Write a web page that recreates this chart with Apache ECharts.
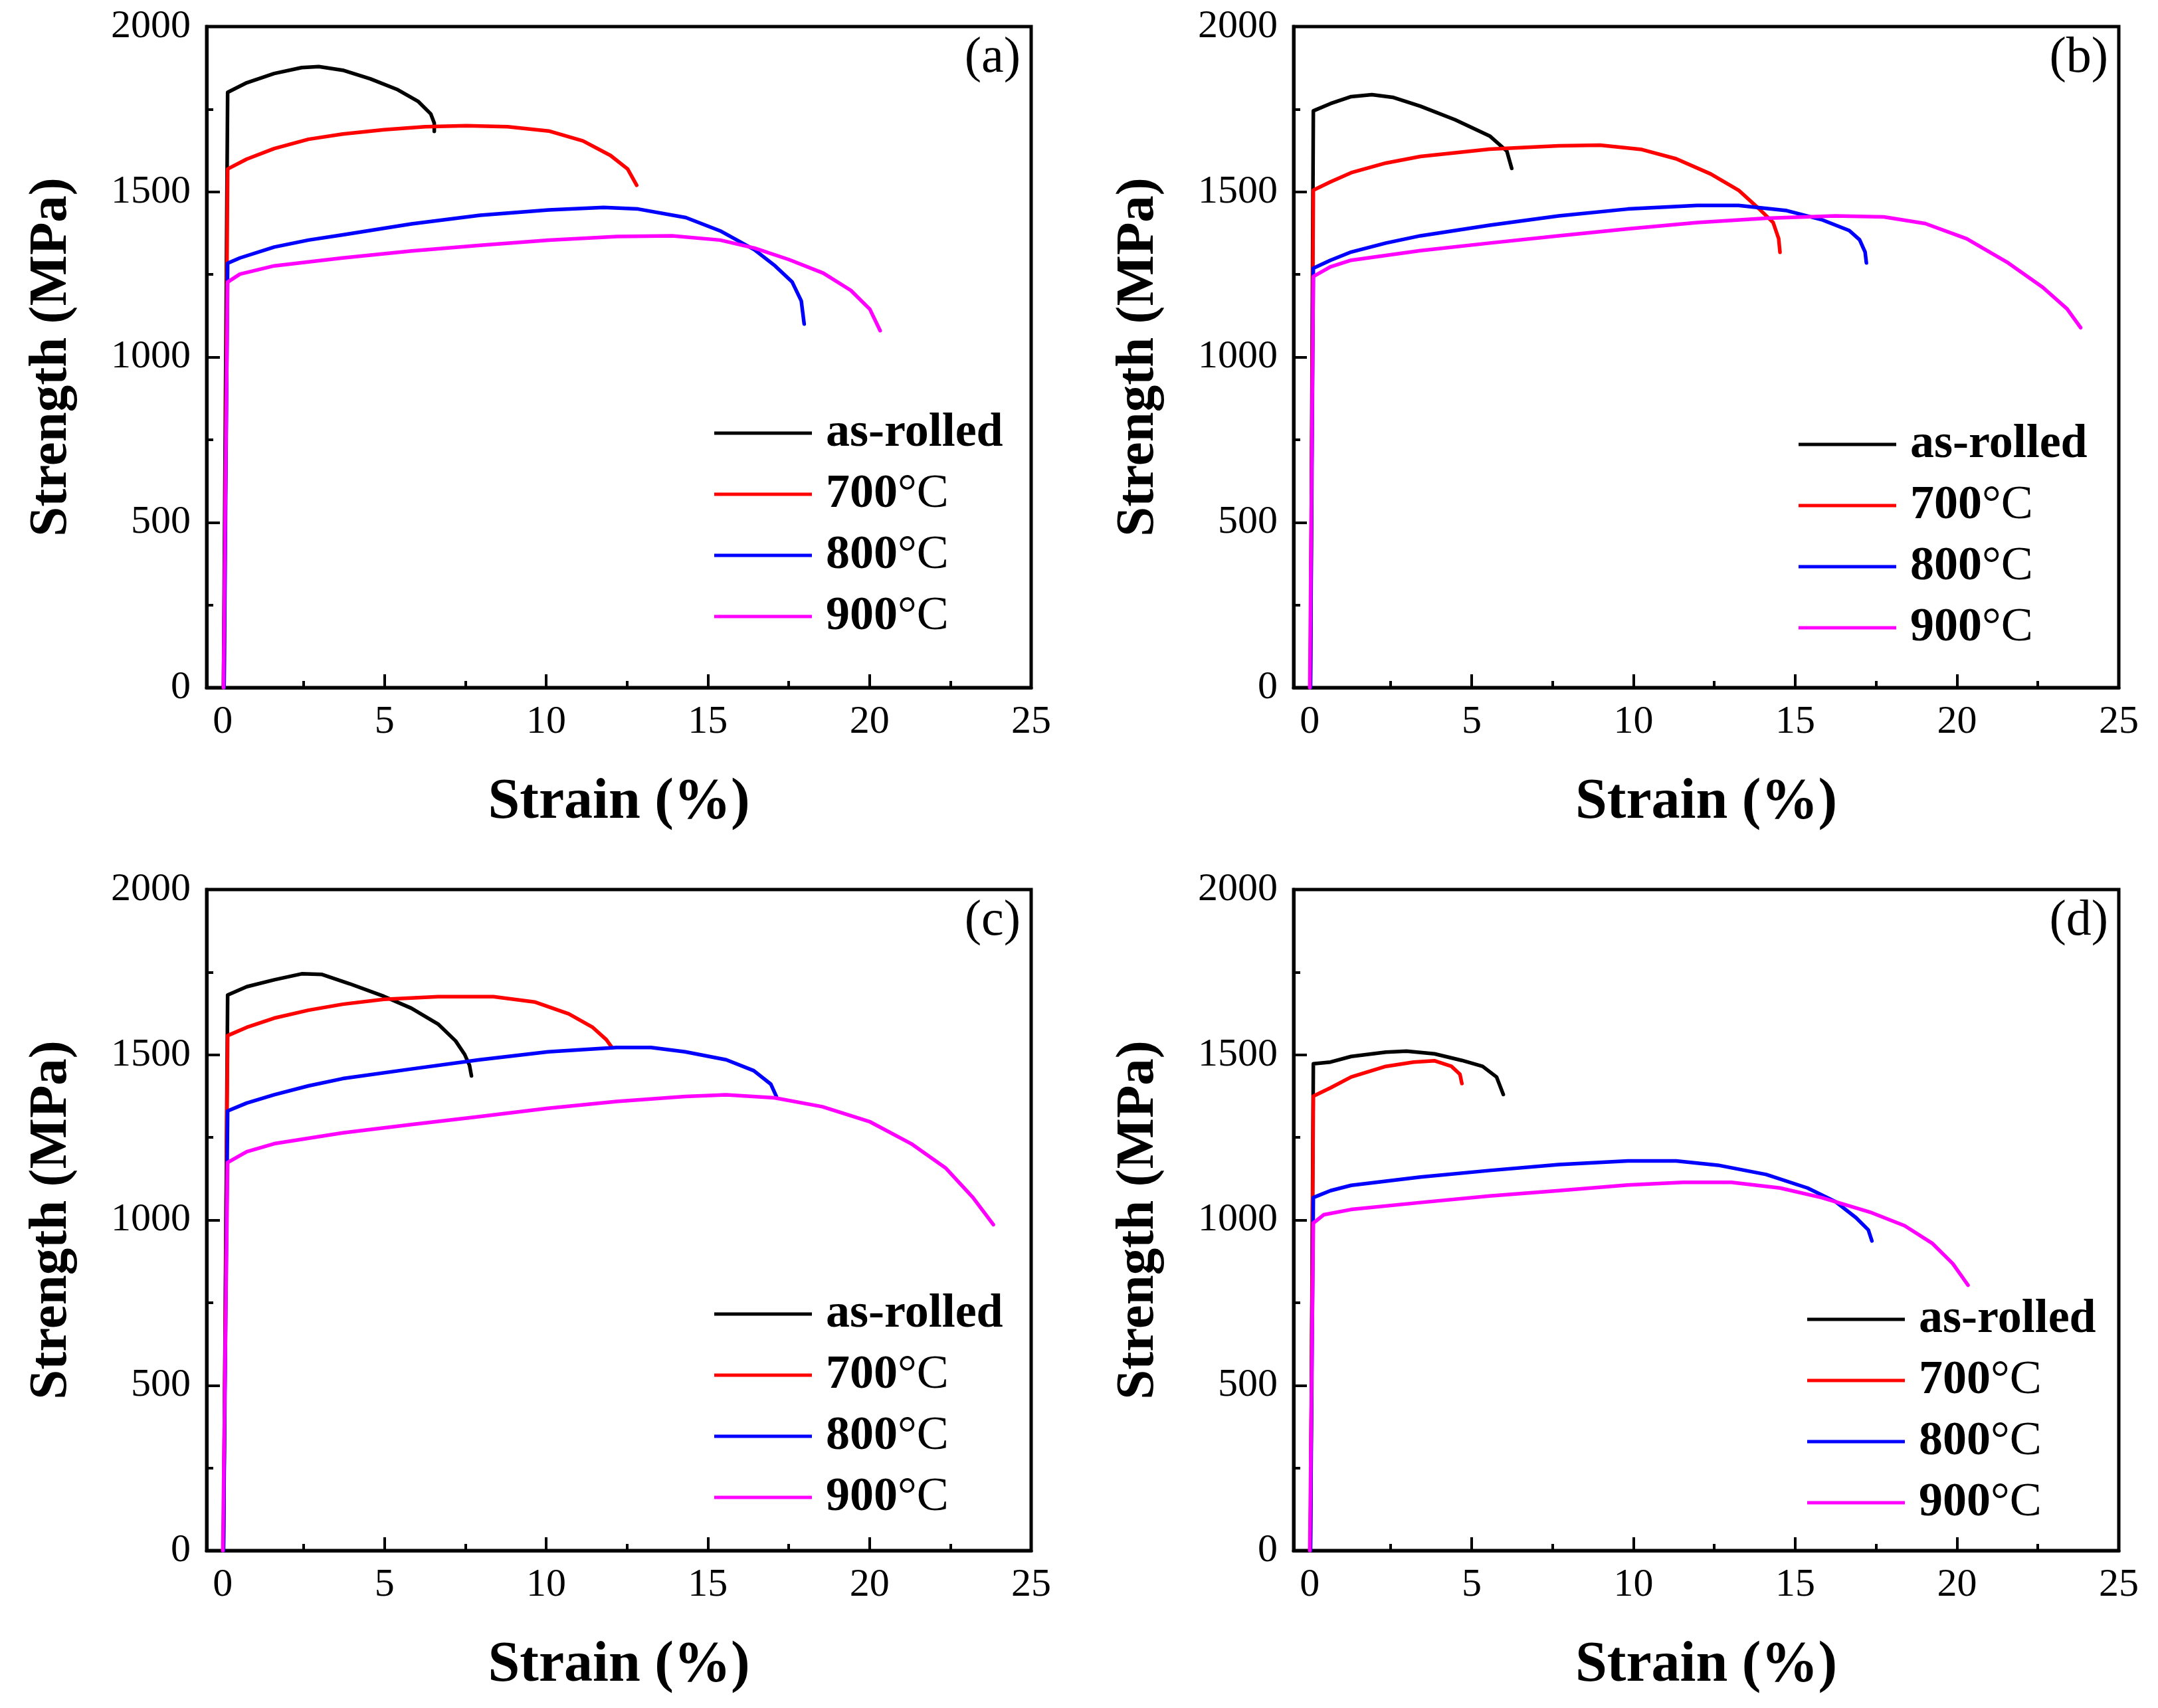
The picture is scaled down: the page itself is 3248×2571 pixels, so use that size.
<!DOCTYPE html>
<html>
<head>
<meta charset="utf-8">
<script src="https://cdn.jsdelivr.net/npm/echarts@6/dist/echarts.min.js"></script>
<style>
  html, body { margin: 0; padding: 0; background: #fff; }
  #chart { width: 3248px; height: 2571px; }
</style>
</head>
<body>
<div id="chart"></div>
<script>
const seriesNames = ['as-rolled', '700°C', '800°C', '900°C']
const seriesColors = ['#000000', '#ff0000', '#0000ff', '#ff00ff']
const panelLabels = ['(a)', '(b)', '(c)', '(d)']
const xTicks = [0, 5, 10, 15, 20, 25]
const xMinorTicks = [2.5, 7.5, 12.5, 17.5, 22.5]
const xRange = [-0.5, 25]
const yRange = [0, 2000]
const yStep = 500

// (a)
const a_asRolled = [[0.02, 0], [0.15, 1801], [0.74, 1830], [1.59, 1858], [2.44, 1876], [2.97, 1879], [3.71, 1868], [4.56, 1842], [5.41, 1809], [6.05, 1773], [6.43, 1736], [6.54, 1708], [6.54, 1683]]
const a_700 = [[0.04, 0], [0.15, 1569], [0.74, 1599], [1.59, 1631], [2.65, 1659], [3.71, 1675], [4.99, 1688], [6.26, 1697], [7.53, 1700], [8.81, 1697], [10.08, 1684], [11.14, 1654], [11.99, 1610], [12.52, 1569], [12.8, 1520]]
const a_800 = [[0.04, 0], [0.15, 1284], [0.53, 1300], [1.59, 1333], [2.65, 1354], [3.71, 1370], [5.84, 1403], [7.96, 1429], [10.08, 1445], [11.78, 1453], [12.84, 1448], [14.32, 1422], [15.38, 1382], [16.44, 1325], [17.08, 1276], [17.61, 1227], [17.89, 1170], [17.98, 1100]]
const a_900 = [[0.02, 0], [0.15, 1227], [0.53, 1251], [1.59, 1276], [3.71, 1300], [5.84, 1321], [7.96, 1338], [10.08, 1354], [12.2, 1365], [13.9, 1367], [15.38, 1354], [16.44, 1330], [17.51, 1295], [18.57, 1254], [19.42, 1202], [20.01, 1145], [20.33, 1080]]
// (b)
const b_asRolled = [[0.02, 0], [0.11, 1745], [0.64, 1767], [1.28, 1788], [1.92, 1794], [2.56, 1786], [3.42, 1759], [4.49, 1718], [5.56, 1669], [6.09, 1623], [6.24, 1571]]
const b_700 = [[0.02, 0], [0.11, 1505], [0.64, 1530], [1.28, 1558], [2.35, 1587], [3.42, 1607], [5.56, 1629], [7.69, 1639], [8.97, 1641], [10.26, 1628], [11.32, 1600], [12.39, 1554], [13.25, 1505], [13.89, 1448], [14.32, 1407], [14.49, 1358], [14.53, 1317]]
const b_800 = [[0.02, 0], [0.11, 1269], [0.64, 1293], [1.28, 1318], [2.35, 1345], [3.42, 1367], [5.56, 1399], [7.69, 1427], [9.83, 1448], [11.97, 1459], [13.25, 1459], [14.74, 1443], [15.81, 1416], [16.67, 1383], [16.99, 1355], [17.16, 1318], [17.2, 1285]]
const b_900 = [[0, 0], [0.11, 1244], [0.64, 1273], [1.28, 1293], [3.42, 1322], [5.56, 1345], [7.69, 1367], [9.83, 1388], [11.97, 1407], [14.1, 1420], [16.24, 1427], [17.74, 1424], [19.02, 1404], [20.3, 1358], [21.58, 1285], [22.65, 1211], [23.4, 1146], [23.82, 1089]]
// (c)
const c_asRolled = [[0.02, 0], [0.15, 1681], [0.74, 1706], [1.59, 1727], [2.44, 1745], [3.07, 1743], [3.92, 1715], [4.98, 1677], [5.83, 1641], [6.67, 1592], [7.2, 1542], [7.48, 1501], [7.63, 1468], [7.69, 1436]]
const c_700 = [[0.02, 0], [0.15, 1558], [0.74, 1583], [1.59, 1611], [2.65, 1635], [3.71, 1653], [4.98, 1668], [6.67, 1676], [8.37, 1676], [9.64, 1660], [10.7, 1624], [11.44, 1583], [11.86, 1546], [12.03, 1523]]
const c_800 = [[0.02, 0], [0.15, 1330], [0.74, 1354], [1.59, 1379], [2.65, 1406], [3.71, 1428], [5.83, 1457], [7.94, 1485], [10.06, 1509], [12.18, 1522], [13.24, 1522], [14.3, 1509], [15.57, 1485], [16.42, 1452], [16.95, 1411], [17.12, 1374]]
const c_900 = [[0, 0], [0.15, 1174], [0.74, 1207], [1.59, 1231], [3.71, 1264], [5.83, 1289], [7.94, 1313], [10.06, 1338], [12.18, 1359], [14.3, 1374], [15.57, 1379], [17.06, 1370], [18.54, 1343], [20.02, 1297], [21.29, 1231], [22.35, 1158], [23.2, 1068], [23.83, 986]]
// (d)
const d_asRolled = [[0.02, 0], [0.11, 1473], [0.64, 1478], [1.28, 1495], [2.35, 1508], [2.99, 1511], [3.85, 1503], [4.7, 1483], [5.34, 1465], [5.77, 1433], [5.98, 1380]]
const d_700 = [[0.02, 0], [0.11, 1375], [0.64, 1400], [1.28, 1433], [2.35, 1465], [3.21, 1478], [3.85, 1482], [4.38, 1465], [4.64, 1441], [4.7, 1413]]
const d_800 = [[0.02, 0], [0.11, 1068], [0.64, 1089], [1.28, 1105], [3.42, 1130], [5.56, 1150], [7.69, 1168], [9.83, 1179], [11.32, 1179], [12.61, 1166], [14.1, 1138], [15.38, 1097], [16.24, 1056], [16.88, 1007], [17.26, 970], [17.37, 937]]
const d_900 = [[0, 0], [0.11, 991], [0.43, 1016], [1.28, 1032], [3.42, 1053], [5.56, 1073], [7.69, 1089], [9.83, 1106], [11.54, 1114], [13.03, 1114], [14.53, 1097], [15.81, 1068], [17.31, 1024], [18.38, 983], [19.23, 930], [19.87, 868], [20.34, 803]]

const panelData = [
  [a_asRolled, a_700, a_800, a_900],
  [b_asRolled, b_700, b_800, b_900],
  [c_asRolled, c_700, c_800, c_900],
  [d_asRolled, d_700, d_800, d_900],
]

const FONT = 'Liberation Serif'
// grid boxes of the four panels
const grids = [
  { left: 311, top: 40, width: 1241, height: 995 },
  { left: 1947, top: 40, width: 1242, height: 995 },
  { left: 311, top: 1339, width: 1241, height: 995 },
  { left: 1947, top: 1339, width: 1242, height: 995 },
]
const legendPos = [
  { left: 1075, top: 612 },
  { left: 2707, top: 629 },
  { left: 1075, top: 1938 },
  { left: 2720, top: 1946 },
]

const myChart = echarts.init(document.getElementById('chart'), null, { renderer: 'canvas' })

const xAxis = []
const yAxis = []
const series = []
const legend = []
const title = []

grids.forEach((g, i) => {
  xAxis.push({
    gridIndex: i,
    type: 'value',
    min: xRange[0],
    max: xRange[1],
    position: 'bottom',
    name: 'Strain (%)',
    nameLocation: 'middle',
    nameGap: 131,
    nameTextStyle: { fontFamily: FONT, fontWeight: 'bold', fontSize: 86, color: '#000' },
    axisLine: { show: true, onZero: false, lineStyle: { color: '#000', width: 5 } },
    axisTick: { show: true, inside: true, length: 20, customValues: xTicks, lineStyle: { color: '#000', width: 4 } },
    axisLabel: { show: true, customValues: xTicks, margin: 22, fontFamily: FONT, fontSize: 60, color: '#000' },
    splitLine: { show: false },
  })
  // minor ticks only
  xAxis.push({
    gridIndex: i,
    type: 'value',
    min: xRange[0],
    max: xRange[1],
    position: 'bottom',
    axisLine: { show: false, onZero: false },
    axisTick: { show: true, inside: true, length: 10, customValues: xMinorTicks, lineStyle: { color: '#000', width: 4 } },
    axisLabel: { show: false },
    splitLine: { show: false },
  })
  yAxis.push({
    gridIndex: i,
    type: 'value',
    min: yRange[0],
    max: yRange[1],
    interval: yStep,
    position: 'left',
    name: 'Strength (MPa)',
    nameLocation: 'middle',
    nameGap: 192,
    nameTextStyle: { fontFamily: FONT, fontWeight: 'bold', fontSize: 81, color: '#000' },
    axisLine: { show: true, onZero: false, lineStyle: { color: '#000', width: 5 } },
    axisTick: { show: true, inside: true, length: 20, lineStyle: { color: '#000', width: 4 } },
    minorTick: { show: true, splitNumber: 2, length: 10, lineStyle: { color: '#000', width: 4 } },
    axisLabel: { margin: 24, fontFamily: FONT, fontSize: 60, color: '#000', formatter: (v) => String(v) },
    splitLine: { show: false },
    minorSplitLine: { show: false },
  })
  panelData[i].forEach((d, k) => {
    series.push({
      name: seriesNames[k],
      type: 'line',
      xAxisIndex: i * 2,
      yAxisIndex: i,
      data: d,
      showSymbol: false,
      symbol: 'none',
      smooth: false,
      lineStyle: { color: seriesColors[k], width: 5.5, join: 'round', cap: 'round' },
      itemStyle: { color: seriesColors[k] },
      animation: false,
    })
  })
  legend.push({
    orient: 'vertical',
    left: legendPos[i].left,
    top: legendPos[i].top,
    padding: 0,
    itemGap: 12,
    itemWidth: 147,
    itemHeight: 5,
    icon: 'rect',
    selectedMode: false,
    data: seriesNames,
    formatter(name) {
      if (name.indexOf('°C') > 0) {
        return '{b|' + name.replace('°C', '') + '}{r|°C}'
      }
      return '{b|' + name + '}'
    },
    textStyle: {
      padding: [0, 0, 0, 16],
      lineHeight: 80,
      rich: {
        b: { fontFamily: FONT, fontWeight: 'bold', fontSize: 72, color: '#000', lineHeight: 80 },
        r: { fontFamily: FONT, fontWeight: 'normal', fontSize: 72, color: '#000', lineHeight: 80 },
      },
    },
  })
  const g2 = grids[i]
  title.push({
    text: panelLabels[i],
    right: 3248 - (g2.left + g2.width - 16),
    top: g2.top + 10,
    padding: 0,
    textStyle: { fontFamily: FONT, fontWeight: 'normal', fontSize: 76, color: '#000' },
  })
})

const option = {
  backgroundColor: '#ffffff',
  animation: false,
  title,
  legend,
  grid: grids.map((g) => ({ ...g, show: true, borderColor: '#000', borderWidth: 5, containLabel: false })),
  xAxis,
  yAxis,
  series,
}

myChart.setOption(option)
</script>
</body>
</html>
